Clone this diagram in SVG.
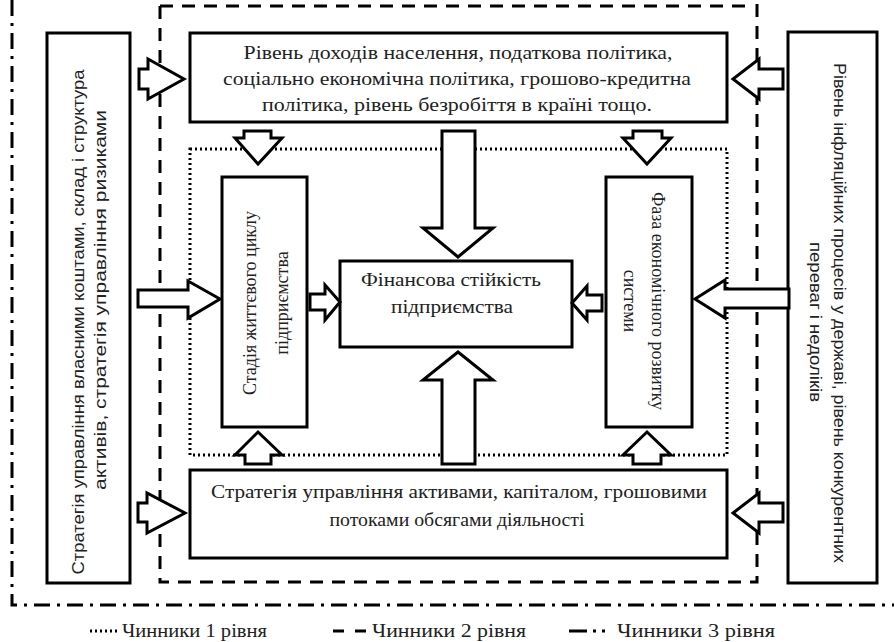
<svg xmlns="http://www.w3.org/2000/svg" width="894" height="642" viewBox="0 0 894 642">
<style>
.box{fill:#fff;stroke:#000;stroke-width:3}
.arr{fill:#fff;stroke:#000;stroke-width:3;stroke-linejoin:miter}
.l1{fill:none;stroke:#000;stroke-width:3;stroke-dasharray:2 3}
.l2{fill:none;stroke:#000;stroke-width:3;stroke-dasharray:13 9}
.l3{fill:none;stroke:#000;stroke-width:3;stroke-dasharray:16 7 3 7}
.t{font-family:"Liberation Serif","DejaVu Serif",serif;font-size:19px;fill:#222;text-anchor:middle}
.v{font-family:"Liberation Serif","DejaVu Serif",serif;font-size:18px;fill:#222;text-anchor:middle}
.s{font-family:"Liberation Sans","DejaVu Sans",sans-serif;font-size:16px;fill:#222;text-anchor:middle}
.lg{font-family:"Liberation Serif","DejaVu Serif",serif;font-size:19px;fill:#222}
</style>
<rect width="894" height="642" fill="#fff"/>
<g id="frames">
<path class="l3" d="M12,0 V605 H894"/>
<path class="l2" d="M160,6 H752 M160,6 V582 H757 V0"/>
<rect class="l1" x="190" y="149" width="537" height="306"/>
</g>
<g id="n-left">
<rect class="box" x="47" y="33" width="83" height="550"/>
<text class="s" transform="translate(84,322) rotate(-90)" textLength="505" lengthAdjust="spacingAndGlyphs">Стратегія управління власними коштами, склад і структура</text>
<text class="s" transform="translate(106,300) rotate(-90)" textLength="380" lengthAdjust="spacingAndGlyphs">активів, стратегія управління ризиками</text>
</g>
<g id="n-right">
<rect class="box" x="788" y="32" width="89" height="551"/>
<text class="s" transform="translate(834,313) rotate(90)" textLength="500" lengthAdjust="spacingAndGlyphs">Рівень інфляційних процесів у державі, рівень конкурентних</text>
<text class="s" transform="translate(810,322) rotate(90)" textLength="160" lengthAdjust="spacingAndGlyphs">переваг і недоліків</text>
</g>
<g id="n-top">
<rect class="box" x="190" y="33" width="537" height="89"/>
<text class="t" x="458" y="59" textLength="429" lengthAdjust="spacingAndGlyphs">Рівень доходів населення, податкова політика,</text>
<text class="t" x="457" y="85" textLength="468" lengthAdjust="spacingAndGlyphs">соціально економічна політика, грошово-кредитна</text>
<text class="t" x="457" y="111" textLength="390" lengthAdjust="spacingAndGlyphs">політика, рівень безробіття в країні тощо.</text>
</g>
<g id="n-bottom">
<rect class="box" x="190" y="470" width="537" height="88"/>
<text class="t" x="459" y="498" textLength="496" lengthAdjust="spacingAndGlyphs">Стратегія управління активами, капіталом, грошовими</text>
<text class="t" x="457" y="526" textLength="255" lengthAdjust="spacingAndGlyphs">потоками обсягами діяльності</text>
</g>
<g id="n-stage">
<rect class="box" x="222" y="177" width="85" height="250"/>
<text class="v" transform="translate(256,303) rotate(-90)">Стадія життєвого циклу</text>
<text class="v" transform="translate(288,303) rotate(-90)">підприємства</text>
</g>
<g id="n-phase">
<rect class="box" x="606" y="177" width="86" height="250"/>
<text class="v" transform="translate(652,301) rotate(90)">Фаза економічного розвитку</text>
<text class="v" transform="translate(624,301) rotate(90)">системи</text>
</g>
<g id="n-center">
<rect class="box" x="340" y="261" width="232" height="86"/>
<text class="t" x="451" y="286" textLength="180" lengthAdjust="spacingAndGlyphs">Фінансова стійкість</text>
<text class="t" x="452" y="313" textLength="122" lengthAdjust="spacingAndGlyphs">підприємства</text>
</g>
<g id="connectors">
<path class="arr" d="M139,69 H148 V59 L184,79 L148,99 V89 H139 Z"/>
<path class="arr" d="M138,290 H188 V281 L220,299 L188,318 V307 H138 Z"/>
<path class="arr" d="M138,503 H147 V493 L185,513 L147,533 V522 H138 Z"/>
<path class="arr" d="M310,294 H325 V285 L340,302 L325,320 V310 H310 Z"/>
<path class="arr" d="M602,295 H587 V286 L572,303 L587,320 V311 H602 Z"/>
<path class="arr" d="M783,69 H759 V59 L733,79 L759,99 V89 H783 Z"/>
<path class="arr" d="M789,289 H725 V280 L695,299 L725,318 V308 H789 Z"/>
<path class="arr" d="M783,503 H759 V493 L733,513 L759,533 V522 H783 Z"/>
<path class="arr" d="M244,131 H271 V138 H282 L258,164 L235,138 H244 Z"/>
<path class="arr" d="M633,131 H662 V138 H671 L647,164 L623,138 H633 Z"/>
<path class="arr" d="M245,464 H271 V455 H282 L258,432 L235,455 H245 Z"/>
<path class="arr" d="M633,464 H661 V455 H671 L647,432 L623,455 H633 Z"/>
<path class="arr" d="M442,131 H475 V228 H493 L458,257 L423,228 H442 Z"/>
<path class="arr" d="M442,464 H475 V380 H493 L458,352 L423,380 H442 Z"/>
</g>
<g id="legend">
<line class="l1" x1="90" y1="631" x2="117" y2="631"/>
<text class="lg" x="122" y="637" textLength="145" lengthAdjust="spacingAndGlyphs">Чинники 1 рівня</text>
<line class="l2" x1="333" y1="631" x2="366" y2="631" style="stroke-dasharray:11 11"/>
<text class="lg" x="372" y="637" textLength="154" lengthAdjust="spacingAndGlyphs">Чинники 2 рівня</text>
<line class="l3" x1="569" y1="631" x2="611" y2="631" style="stroke-dasharray:18 6 3 6 3 20"/>
<text class="lg" x="617" y="637" textLength="158" lengthAdjust="spacingAndGlyphs">Чинники 3 рівня</text>
</g>
</svg>
